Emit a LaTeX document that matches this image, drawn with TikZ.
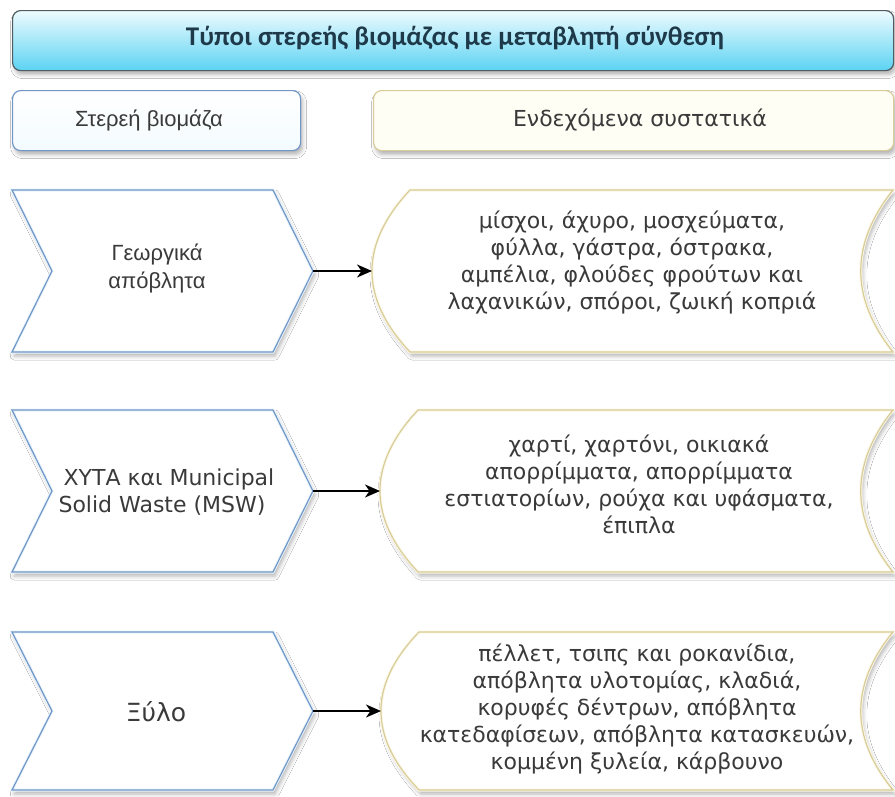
\documentclass[tikz,border=0pt]{standalone}
\usepackage{fontspec}
\setmainfont{DejaVu Sans}
\newfontfamily\titlefont{Carlito}
\newfontfamily\narrowfont{Liberation Sans}
\usetikzlibrary{shadows.blur,arrows.meta}
\definecolor{txt}{HTML}{3A3A3A}
\definecolor{titletxt}{HTML}{1E3A4A}
\definecolor{titleborder}{HTML}{505C62}
\definecolor{titletop}{HTML}{EEFBFE}
\definecolor{titlebot}{HTML}{5CD3F3}
\definecolor{blueb}{HTML}{7197C6}
\definecolor{blueglow}{HTML}{E8F4FC}
\definecolor{bluefill}{HTML}{F3FBFF}
\definecolor{yelb}{HTML}{D8CC98}
\definecolor{yelglow}{HTML}{FCF8E8}
\definecolor{yelfill}{HTML}{FFFEF5}
\tikzset{
  shad/.style={blur shadow={shadow xshift=2pt, shadow yshift=-4pt, shadow blur radius=4pt, shadow opacity=30}},
  titlebox/.style={draw=titleborder, line width=1.2pt, rounded corners=8pt, top color=titletop, bottom color=titlebot, shad, anchor=north west, inner sep=0pt},
  headl/.style={draw=blueb, line width=1.2pt, rounded corners=8pt, top color=white, bottom color=bluefill, shad, anchor=north west, inner sep=0pt},
  headr/.style={draw=yelb, line width=1.2pt, rounded corners=8pt, fill=yelfill, shad, anchor=north west, inner sep=0pt},
  chevshape/.style={fill=white, shad, postaction={draw=blueglow, line width=3pt}, postaction={draw=blueb, line width=1.2pt}},
  datashape/.style={fill=white, shad, postaction={draw=yelglow, line width=3pt}, postaction={draw=yelb, line width=1.2pt}},
  lbl/.style={font=\fontsize{22}{27}\selectfont, text=txt, align=center, inner sep=0pt},
  arr/.style={draw=black, line width=2pt, -{Stealth[length=15pt,width=13pt,inset=4.5pt]}},
}
\begin{document}
\begin{tikzpicture}[x=1pt,y=-1pt]
\useasboundingbox (0,0) rectangle (895,796);
\fill[white] (0,0) rectangle (895,796);

% title
\node[titlebox, minimum width=881pt, minimum height=60pt] (title) at (12,10) {};
\node[font=\titlefont\bfseries\fontsize{27}{30}\selectfont, text=titletxt, inner sep=0pt] (titletext) at (455,38) {Τύποι στερεής βιομάζας με μεταβλητή σύνθεση};

% headers
\node[headl, minimum width=288pt, minimum height=60pt] (hl) at (12,90) {};
\node[lbl, font=\narrowfont\fontsize{22}{27}\selectfont] (hltext) at (149,120) {Στερεή βιομάζα};
\node[headr, minimum width=520pt, minimum height=60pt] (hr) at (373,90) {};
\node[lbl] (hrtext) at (640,120) {Ενδεχόμενα συστατικά};

% row shapes: chevrons
\foreach \T/\B in {190/352, 410/572, 632/790}{
  \pgfmathsetmacro{\M}{(\T+\B)/2}
  \path[chevshape] (12,\T) -- (273,\T) -- (313,\M) -- (273,\B) -- (12,\B) -- (52,\M) -- cycle;
}

% row shapes: stored data
\foreach \L/\T/\B in {372/190/352, 380/410/572, 381/632/790}{
  \pgfmathsetmacro{\H}{(\B-\T)/3}
  \path[datashape] (\L+38,\T) -- (893,\T)
     .. controls (893-43,\T+\H) and (893-43,\B-\H) .. (893,\B)
     -- (\L+38,\B)
     .. controls (\L-12.7,\B-\H) and (\L-12.7,\T+\H) .. (\L+38,\T) -- cycle;
}

% named connector ends
\coordinate (c1) at (313,271);
\coordinate (s1) at (372,271);
\coordinate (c2) at (313,491);
\coordinate (s2) at (380,491);
\coordinate (c3) at (313,711);
\coordinate (s3) at (381,711);

% texts
\node[lbl, font=\narrowfont\fontsize{22}{28}\selectfont] (g1) at (157,268) {Γεωργικά\\απόβλητα};
\node[lbl] (g2) at (162,492) {\hspace*{14pt}ΧΥΤΑ και Municipal\\Solid Waste (MSW)};
\node[lbl, font=\fontsize{25}{30}\selectfont] (g3) at (156,712) {Ξύλο};

\node[lbl] (d1) at (632,263) {μίσχοι, άχυρο, μοσχεύματα,\\φύλλα, γάστρα, όστρακα,\\αμπέλια, φλούδες φρούτων και\\λαχανικών, σπόροι, ζωική κοπριά};
\node[lbl] (d2) at (639,484) {χαρτί, χαρτόνι, οικιακά\\απορρίμματα, απορρίμματα\\εστιατορίων, ρούχα και υφάσματα,\\έπιπλα};
\node[lbl] (d3) at (637,709) {πέλλετ, τσιπς και ροκανίδια,\\απόβλητα υλοτομίας, κλαδιά,\\κορυφές δέντρων, απόβλητα\\κατεδαφίσεων, απόβλητα κατασκευών,\\κομμένη ξυλεία, κάρβουνο};

% connectors
\draw[arr] (c1) -- (s1);
\draw[arr] (c2) -- (s2);
\draw[arr] (c3) -- (s3);
\end{tikzpicture}
\end{document}
